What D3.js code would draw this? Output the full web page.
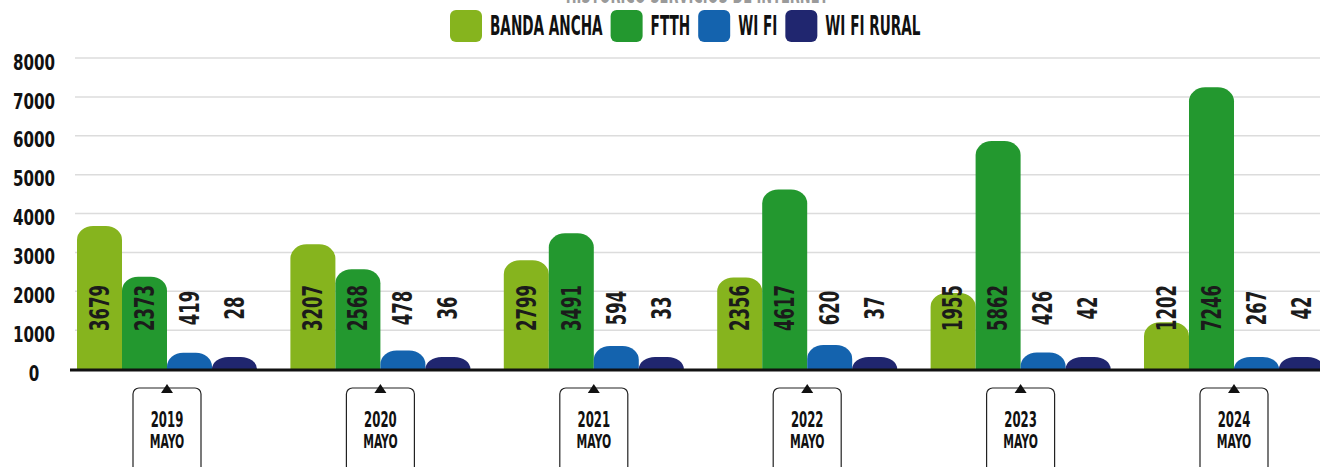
<!DOCTYPE html>
<html>
<head>
<meta charset="utf-8">
<script src="https://cdn.jsdelivr.net/npm/d3@7"></script>
<style>
  html, body { margin: 0; padding: 0; background: #fff; overflow: hidden; }
  text { font-family: "DejaVu Sans Condensed", "DejaVu Sans", sans-serif; font-weight: bold; }
</style>
</head>
<body>
<div id="chart"></div>
<script>
var title = "HISTÓRICO SERVICIOS DE INTERNET";
var years = ["2019", "2020", "2021", "2022", "2023", "2024"];
var month = "MAYO";
var seriesNames = ["BANDA ANCHA", "FTTH", "WI FI", "WI FI RURAL"];
var seriesColors = ["#86b41e", "#23982f", "#1463ae", "#20266f"];
var bandaAncha = [3679, 3207, 2799, 2356, 1955, 1202];
var ftth = [2373, 2568, 3491, 4617, 5862, 7246];
var wifi = [419, 478, 594, 620, 426, 267];
var wifiRural = [28, 36, 33, 37, 42, 42];
var yTicks = [0, 1000, 2000, 3000, 4000, 5000, 6000, 7000, 8000];

var seriesValues = [bandaAncha, ftth, wifi, wifiRural];

var width = 1320, height = 467;

var svg = d3.select("#chart").append("svg")
  .attr("width", width)
  .attr("height", height);

var y = d3.scaleLinear().domain([0, 8000]).range([369, 58]);

var x0 = d3.scaleBand().domain(years).range([77, 1324]).paddingInner(0.1565).paddingOuter(0);
var x1 = d3.scaleBand().domain(seriesNames).range([0, x0.bandwidth()]).padding(0);

// title, mostly cut off at the top
svg.append("text")
  .attr("transform", "translate(697,3) scale(0.6,1)")
  .attr("text-anchor", "middle")
  .attr("fill", "#9a9a9a")
  .attr("font-size", 24)
  .text(title);

// grid
svg.append("g").selectAll("line").data(yTicks.filter(function(d) { return d > 0; }))
  .enter().append("line")
  .attr("x1", 75).attr("x2", width)
  .attr("y1", function(d) { return y(d); })
  .attr("y2", function(d) { return y(d); })
  .attr("stroke", "#dcdcdc")
  .attr("stroke-width", 1.5);

// y labels
svg.append("g").selectAll("text").data(yTicks)
  .enter().append("text")
  .attr("transform", function(d) { return "translate(34," + (y(d) + 4) + ") scale(0.8,1)"; })
  .attr("text-anchor", "middle")
  .attr("dominant-baseline", "central")
  .attr("font-size", 21)
  .attr("fill", "#111")
  .text(function(d) { return d; });

function barPath(x, w, top, base) {
  var h = base - top;
  var rx = w * 0.36, ry = Math.min(14, h);
  return "M" + x + "," + base +
    "L" + x + "," + (top + ry) +
    "A" + rx + "," + ry + " 0 0 1 " + (x + rx) + "," + top +
    "L" + (x + w - rx) + "," + top +
    "A" + rx + "," + ry + " 0 0 1 " + (x + w) + "," + (top + ry) +
    "L" + (x + w) + "," + base + "Z";
}

var groups = svg.append("g").selectAll("g").data(years)
  .enter().append("g")
  .attr("transform", function(d) { return "translate(" + x0(d) + ",0)"; });

var cells = groups.selectAll("g.cell")
  .data(function(d, i) {
    return seriesNames.map(function(s, j) { return {name: s, value: seriesValues[j][i], color: seriesColors[j]}; });
  })
  .enter().append("g").attr("class", "cell");

cells.append("path")
  .attr("fill", function(d) { return d.color; })
  .attr("d", function(d) {
    var base = y(0);
    var top = Math.min(y(d.value), base - 12);
    return barPath(x1(d.name), x1.bandwidth(), top, base);
  });

cells.append("text")
  .attr("transform", function(d) {
    return "translate(" + (x1(d.name) + x1.bandwidth() / 2) + ",308) rotate(-90) scale(0.68,1)";
  })
  .attr("text-anchor", "middle")
  .attr("dominant-baseline", "central")
  .attr("font-size", 27)
  .attr("fill", "#1b1b1b")
  .text(function(d) { return d.value; });

// baseline
svg.append("line")
  .attr("x1", 70).attr("x2", width)
  .attr("y1", y(0) + 1).attr("y2", y(0) + 1)
  .attr("stroke", "#111")
  .attr("stroke-width", 3);

// year boxes
var ticks = svg.append("g").selectAll("g").data(years)
  .enter().append("g")
  .attr("transform", function(d) { return "translate(" + (x0(d) + x0.bandwidth() / 2) + ",0)"; });

ticks.append("rect")
  .attr("x", -34).attr("y", 388)
  .attr("width", 68).attr("height", 90)
  .attr("rx", 6)
  .attr("fill", "#fff")
  .attr("stroke", "#222")
  .attr("stroke-width", 1.2);

ticks.append("path")
  .attr("d", "M0,384L6,393L-6,393Z")
  .attr("fill", "#111");

ticks.append("text")
  .attr("transform", "translate(0,427) scale(0.62,1)")
  .attr("text-anchor", "middle")
  .attr("font-size", 21)
  .attr("fill", "#111")
  .text(function(d) { return d; });

ticks.append("text")
  .attr("transform", "translate(0,448) scale(0.6,1)")
  .attr("text-anchor", "middle")
  .attr("font-size", 20)
  .attr("fill", "#111")
  .text(month);

// legend
var legend = svg.append("g");
var lx = 450, sx = 0.56;
seriesNames.forEach(function(name, i) {
  legend.append("rect")
    .attr("x", lx).attr("y", 10)
    .attr("width", 32).attr("height", 32)
    .attr("rx", 6)
    .attr("fill", seriesColors[i]);
  var t = legend.append("text")
    .attr("transform", "translate(" + (lx + 40) + ",35) scale(" + sx + ",1)")
    .attr("font-size", 27)
    .attr("fill", "#111")
    .text(name);
  lx += 40 + t.node().getComputedTextLength() * sx + 8;
});
</script>
</body>
</html>
